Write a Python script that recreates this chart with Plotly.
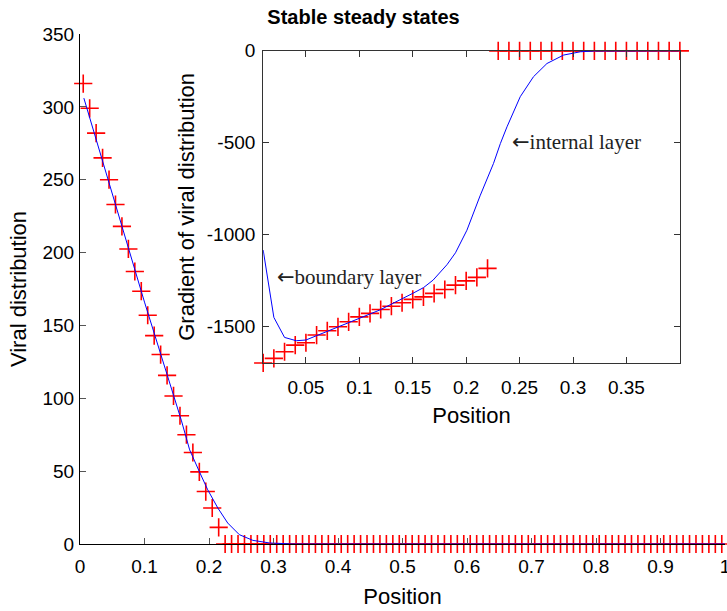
import plotly.graph_objects as go

# ---------------- data ----------------
main_marker_x = [round(0.005 + 0.01 * i, 3) for i in range(100)]
main_marker_y = [316, 299, 282, 265, 250, 233, 218, 202.5, 187, 173.5,
                 157, 143, 130, 115.7, 101.6, 88, 75, 62.8, 49.5, 36,
                 24.7, 11.4] + [0] * 78

main_line_x = [0.006, 0.05, 0.1, 0.157, 0.170, 0.185, 0.198, 0.2137, 0.229,
               0.247, 0.268, 0.294, 0.33, 1.0]
main_line_y = [306, 240, 166, 85, 64.6, 49.7, 37.2, 24.7, 14.4,
               6.4, 2.5, 0.7, 0, 0]

inset_marker_x = [round(0.01 * i, 2) for i in range(1, 41)]
inset_marker_y = [-1700, -1675, -1639, -1603, -1590, -1548, -1525, -1503, -1476, -1449,
                  -1430, -1409, -1391, -1372, -1354, -1340, -1321, -1300, -1276, -1253,
                  -1234, -1185] + [0] * 18

inset_line_x = [0.01, 0.02, 0.03, 0.041, 0.05, 0.08, 0.119, 0.15, 0.16, 0.169, 0.182,
                0.19, 0.2007, 0.213, 0.2256, 0.232, 0.2382, 0.2506, 0.263, 0.2756,
                0.2912, 0.307, 0.32, 0.4]
inset_line_y = [-1085, -1452, -1561, -1579, -1575, -1505, -1412, -1321, -1290, -1249, -1165,
                -1100, -977, -790, -613, -505, -414, -250, -141, -69,
                -23, -5, -1, 0]

main_xticks = [0, 0.1, 0.2, 0.3, 0.4, 0.5, 0.6, 0.7, 0.8, 0.9, 1]
main_xtick_text = ["0", "0.1", "0.2", "0.3", "0.4", "0.5", "0.6", "0.7", "0.8", "0.9", "1"]
main_yticks = [0, 50, 100, 150, 200, 250, 300, 350]
inset_xticks = [0.05, 0.1, 0.15, 0.2, 0.25, 0.3, 0.35]
inset_xtick_text = ["0.05", "0.1", "0.15", "0.2", "0.25", "0.3", "0.35"]
inset_yticks = [0, -500, -1000, -1500]
inset_ytick_text = ["0", "-500", "-1000", "-1500"]

SANS = "Liberation Sans, Arial, sans-serif"
SERIF = "Liberation Serif, Times New Roman, serif"
TICK = 19
TITLE = 22

fig = go.Figure()

marker_style = dict(symbol="cross-thin", size=13, color="#ff0000",
                    line=dict(width=1.6, color="#ff0000"))

fig.add_trace(go.Scatter(x=main_marker_x, y=main_marker_y, mode="markers",
                         marker=marker_style, cliponaxis=False, showlegend=False))
fig.add_trace(go.Scatter(x=main_line_x, y=main_line_y, mode="lines",
                         line=dict(color="#0000ff", width=1), showlegend=False))

fig.add_trace(go.Scatter(x=inset_marker_x, y=inset_marker_y, mode="markers",
                         marker=marker_style, cliponaxis=False, showlegend=False,
                         xaxis="x2", yaxis="y2"))
fig.add_trace(go.Scatter(x=inset_line_x, y=inset_line_y, mode="lines",
                         line=dict(color="#0000ff", width=1), showlegend=False,
                         xaxis="x2", yaxis="y2"))

axis_common = dict(showgrid=False, zeroline=False, showline=True, automargin=False,
                   ticks="inside", ticklen=6, tickwidth=1, ticklabeloverflow="allow",
                   tickfont=dict(family=SANS, size=TICK, color="black"))

arrow = '<span style="font-family:DejaVu Sans">\u2190</span>'

fig.update_layout(
    width=727, height=611,
    margin=dict(l=80, r=2, t=34, b=67),
    paper_bgcolor="white", plot_bgcolor="rgba(0,0,0,0)",
    title=dict(text="<b>Stable steady states</b>", xref="container", x=0.5,
               xanchor="center", yref="container", y=1 - 17 / 611, yanchor="middle",
               font=dict(family=SANS, size=20, color="black"), automargin=False),
    xaxis=dict(range=[0, 1], tickvals=main_xticks, ticktext=main_xtick_text,
               linecolor="black", tickcolor="#555", ticklabelstandoff=5,
               title=dict(text="Position", standoff=12,
                          font=dict(family=SANS, size=TITLE, color="black")),
               **axis_common),
    yaxis=dict(range=[0, 350], tickvals=main_yticks,
               linecolor="black", tickcolor="#555", ticklabelstandoff=1,
               title=dict(text="Viral distribution", standoff=9,
                          font=dict(family=SANS, size=TITLE, color="black")),
               **axis_common),
    xaxis2=dict(domain=[0.284, 0.930], anchor="y2", range=[0.01, 0.4],
                tickvals=inset_xticks, ticktext=inset_xtick_text,
                linecolor="#333", tickcolor="#333", mirror="ticks",
                ticklabelstandoff=7,
                title=dict(text="Position", standoff=10,
                           font=dict(family=SANS, size=TITLE, color="black")),
                **axis_common),
    yaxis2=dict(domain=[0.355, 0.967], anchor="x2", range=[-1700, 0],
                tickvals=inset_yticks, ticktext=inset_ytick_text,
                linecolor="#333", tickcolor="#333", mirror="ticks",
                ticklabelstandoff=3,
                title=dict(text="Gradient of viral distribution", standoff=6,
                           font=dict(family=SANS, size=TITLE, color="black")),
                **axis_common),
    annotations=[
        dict(text=arrow + "boundary layer", x=0.021, y=-1231, xref="x2", yref="y2",
             xanchor="left", yanchor="middle", showarrow=False,
             font=dict(family=SERIF, size=21, color="#222")),
        dict(text=arrow + "internal layer", x=0.2413, y=-496, xref="x2", yref="y2",
             xanchor="left", yanchor="middle", showarrow=False,
             font=dict(family=SERIF, size=21, color="#222")),
    ],
)

fig.write_html("out.html", config={"displayModeBar": False},
               post_script="document.body.style.margin='0';document.body.style.padding='0';")
